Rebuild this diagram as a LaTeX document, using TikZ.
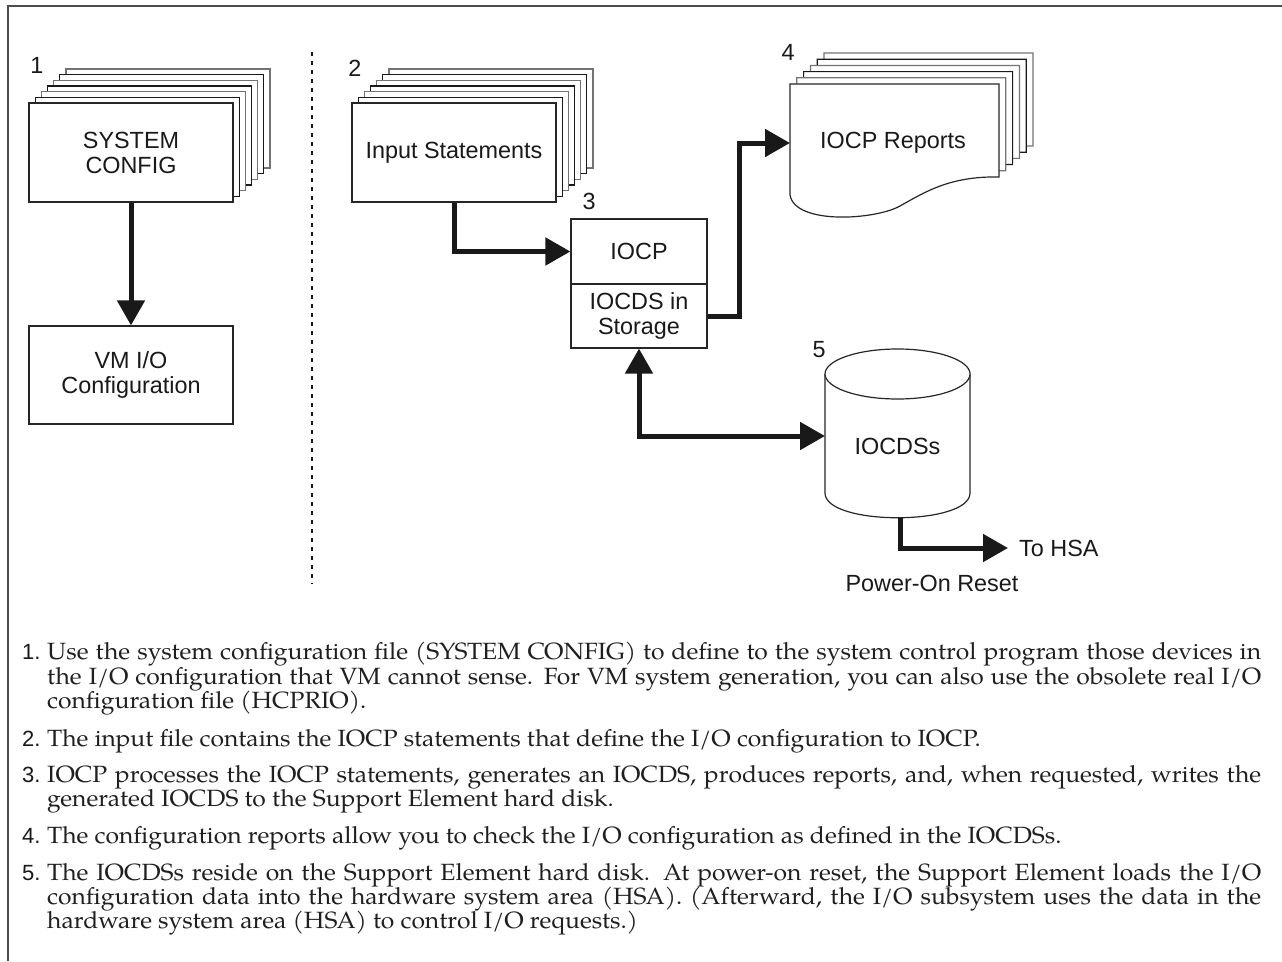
\documentclass[tikz,border=0pt]{standalone}
\usepackage{fontspec}
\setmainfont{Liberation Sans}
\newfontfamily\bodyfont{texgyrepagella}[Extension=.otf,UprightFont=*-regular,FakeStretch=1.05]
\usetikzlibrary{arrows.meta,calc}
\newcommand{\fullline}[1]{\makebox[1214pt][s]{#1}}
\begin{document}
\begin{tikzpicture}[x=1pt,y=-1pt,
  thin/.style={line width=1.2pt, draw=black!85},
  page/.style={thin, fill=white},
  lbl/.style={font=\fontsize{23.4}{25}\selectfont, align=center, text=black!90, inner sep=0pt},
  box/.style={page, lbl},
  flow/.style={line width=5pt, draw=black!90, -{Triangle[width=27pt,length=25pt]}},
  flowb/.style={line width=5pt, draw=black!90, {Triangle[width=27pt,length=25pt]}-{Triangle[width=27pt,length=25pt]}},
  num/.style={font=\fontsize{22}{24}\selectfont, text=black!90, anchor=base west, inner sep=0pt},
  body/.style={font=\bodyfont\fontsize{23.5}{24}\selectfont, text=black!88, anchor=base west, inner sep=0pt}]
\useasboundingbox (0,0) rectangle (1282,961);
% frame
\draw[line width=1.8pt, black!70] (8,961) -- (8,6) -- (1282,6);
% separator
\draw[line width=2.2pt, black!90, dash pattern=on 4pt off 5pt] (312,52) -- (312,584);
% stack 1
\foreach \k/\c in {6/black!55,5/black!90,4/black!55,3/black!90,2/black!55,1/black!90}
  \draw[page, draw=\c] ($(29,103)+(\k*6.17,-\k*5.67)$) rectangle ++(204,99);
\node[box, minimum width=204pt, minimum height=99pt] (sys) at (131,152.5) {SYSTEM\\CONFIG};
\node[box, minimum width=204pt, minimum height=98pt] (vm) at (131,375) {VM I/O\\Configuration};
\node[lbl] (n1) at (37,65) {1};
% stack 2
\foreach \k/\c in {6/black!55,5/black!90,4/black!55,3/black!90,2/black!55,1/black!90}
  \draw[page, draw=\c] ($(352,103)+(\k*6.17,-\k*5.67)$) rectangle ++(204,99);
\node[box, minimum width=204pt, minimum height=99pt] (inp) at (454,152.5) {Input Statements};
\node[lbl] (n2) at (355,68) {2};
% box 3
\node[box, minimum width=136pt, minimum height=65pt] (iocp) at (639,251.5) {IOCP};
\node[box, minimum width=136pt, minimum height=64pt] (ioc) at (639,316) {IOCDS in\\Storage};
\node[lbl] (n3) at (589,201) {3};
% reports stack
\foreach \k/\c in {5/black!55,4/black!90,3/black!55,2/black!90,1/black!55,0/black!85}
  \draw[page, draw=\c, shift={(\k*6.8,-\k*6.2)}]
    (790,84) -- (999,84) -- (999,177) .. controls (950,176) and (925,192) .. (900,206)
    .. controls (875,220) and (795,225) .. (790,195) -- cycle;
\node[lbl] (rep) at (893,143) {IOCP Reports};
\coordinate (repin) at (790,143);
\node[lbl] (n4) at (788,52) {4};
% cylinder
\draw[page] (825,374) -- (825,493) .. controls (825,526) and (970,526) .. (970,493) -- (970,374);
\draw[page] (897.5,374) ellipse [x radius=72.5, y radius=25];
\node[lbl] (cyl) at (897.5,446) {IOCDSs};
\node[lbl] (n5) at (819,350) {5};
\coordinate (cylw) at (825,436);
\coordinate (cylb) at (900,518);
\coordinate (hsa) at (1008,548);
\node[lbl, anchor=west] (tohsa) at (1019,548) {To HSA};
\node[lbl] (por) at (932,583) {Power-On Reset};
% connectors
\draw[flow] (sys.south) -- (vm.north);
\draw[flow] (inp.south) |- (iocp.west);
\draw[flow] (ioc.east) -- ++(32,0) |- (repin);
\draw[flowb] (ioc.south) |- (cylw);
\draw[flow] (cylb) |- (hsa);
% list
\node[num] (m1) at (22,659) {1.};
\node[body] (t1a) at (47,659) {\fullline{Use the system configuration file (SYSTEM CONFIG) to define to the system control program those devices in}};
\node[body] (t1b) at (47,684) {\fullline{the I/O configuration that VM cannot sense. For VM system generation, you can also use the obsolete real I/O}};
\node[body] (t1c) at (47,708) {configuration file (HCPRIO).};
\node[num] (m2) at (22,746) {2.};
\node[body] (t2a) at (47,746) {The input file contains the IOCP statements that define the I/O configuration to IOCP.};
\node[num] (m3) at (22,782) {3.};
\node[body] (t3a) at (47,782) {\fullline{IOCP processes the IOCP statements, generates an IOCDS, produces reports, and, when requested, writes the}};
\node[body] (t3b) at (47,806) {generated IOCDS to the Support Element hard disk.};
\node[num] (m4) at (22,843) {4.};
\node[body] (t4a) at (47,843) {The configuration reports allow you to check the I/O configuration as defined in the IOCDSs.};
\node[num] (m5) at (22,880) {5.};
\node[body] (t5a) at (47,880) {\fullline{The IOCDSs reside on the Support Element hard disk. At power-on reset, the Support Element loads the I/O}};
\node[body] (t5b) at (47,904) {\fullline{configuration data into the hardware system area (HSA). (Afterward, the I/O subsystem uses the data in the}};
\node[body] (t5c) at (47,928) {hardware system area (HSA) to control I/O requests.)};
\end{tikzpicture}
\end{document}
